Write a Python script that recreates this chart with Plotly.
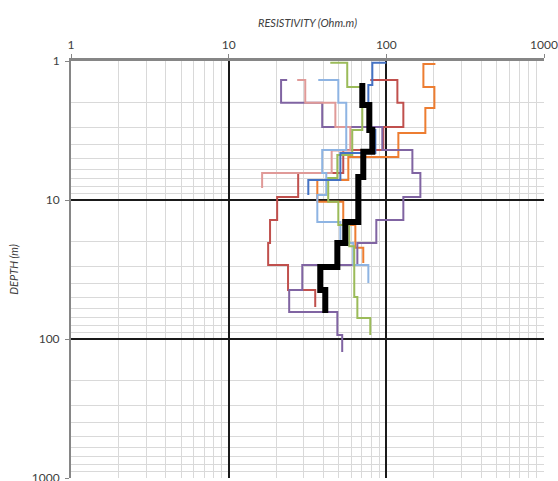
import plotly.graph_objects as go

# ---- data (resistivity in Ohm.m, depth in m); each path starts with a horizontal step at depth[0]
dblue_rho = [100, 81.5, 76.9, 85.2, 51.1, 32.0]
dblue_depth = [1.03, 1.49, 3.14, 4.59, 7.18, 9.2]

orange_rho = [204.7, 171.8, 201.7, 176.8, 119.2, 57.4, 36.5, 53.3, 63.6, 71.4]
orange_depth = [1.05, 1.54, 2.18, 3.30, 4.91, 7.18, 10.3, 15.1, 22.1, 28.4]

red_rho = [79.1, 117.5, 128.2, 95.7, 53.3, 27.6, 20.3, 18.3, 17.8, 23.8, 35.4]
red_depth = [1.37, 2.0, 2.98, 4.37, 6.39, 9.51, 13.9, 20.4, 29.3, 44.4, 58.9]

purple_rho = [23.5, 21.5, 39.2, 94.3, 146.3, 164.4, 128.2, 86.4, 65.5, 29.3, 24.2, 48.9, 52.5]
purple_depth = [1.37, 2.0, 2.98, 4.37, 6.39, 9.51, 13.9, 20.4, 29.3, 44.4, 63.9, 93.6, 124]

pink_rho = [27.2, 30.6, 47.5, 59.1, 45.0, 16.3]
pink_depth = [1.37, 2.0, 2.98, 4.4, 6.39, 8.2]

lblue_rho = [37.0, 49.6, 55.7, 39.2, 41.6, 36.5, 51.1, 61.7, 76.9]
lblue_depth = [1.37, 2.0, 4.37, 6.39, 9.2, 14.4, 20.4, 29.3, 39.5]

green_rho = [44.1, 56.5, 70.4, 60.8, 48.9, 42.8, 49.6, 58.2, 62.6, 65.5, 79.1]
green_depth = [1.03, 1.54, 3.14, 4.75, 6.95, 10.3, 15.1, 21.5, 49.9, 70.6, 93.6]

black_rho = [70.4, 70.4, 78.0, 81.5, 71.4, 66.4, 54.9, 48.9, 38.1, 41.0]
black_depth = [1.44, 2.07, 3.14, 4.5, 6.83, 14.4, 20.4, 30.3, 44.4, 65.0]

x_ticks = [1, 10, 100, 1000]
y_ticks = [1, 10, 100, 1000]


def step_path(rho, depth):
    xs, ys = [rho[0]], [depth[0]]
    for i in range(1, len(rho)):
        xs += [rho[i], rho[i]]
        ys += [depth[i - 1], depth[i]]
    return xs, ys


series = [
    (orange_rho, orange_depth, "#ED7D31", 2),
    (red_rho, red_depth, "#C0504D", 2),
    (purple_rho, purple_depth, "#8064A2", 2),
    (pink_rho, pink_depth, "#E09A98", 2),
    (lblue_rho, lblue_depth, "#8EB4E3", 2),
    (green_rho, green_depth, "#9BBB59", 2),
    (dblue_rho, dblue_depth, "#4472C4", 2),
    (black_rho, black_depth, "#000000", 6),
]

fig = go.Figure()
for rho, depth, color, w in series:
    xs, ys = step_path(rho, depth)
    fig.add_trace(go.Scatter(x=xs, y=ys, mode="lines",
                             line=dict(color=color, width=w),
                             hoverinfo="skip"))

font_family = "Lato, 'Open Sans', sans-serif"
fig.update_layout(
    width=558, height=481,
    margin=dict(l=71, r=14, t=61, b=3, autoexpand=False),
    plot_bgcolor="white", paper_bgcolor="white",
    showlegend=False,
    font=dict(family=font_family, size=12, color="#404040"),
)
fig.update_xaxes(
    type="log", range=[0, 3], side="top", automargin=False,
    tickvals=x_ticks, ticktext=[str(v) for v in x_ticks],
    showgrid=True, gridcolor="#1a1a1a", gridwidth=1.5,
    showline=True, linecolor="#868686", linewidth=3,
    ticks="outside", ticklen=4, tickcolor="#868686",
    tickfont=dict(size=12, color="#404040"),
    ticklabeloverflow="allow",
    minor=dict(showgrid=True, gridcolor="#d9d9d9", gridwidth=1, dtick="D1"),
    title=dict(text="<i>RESISTIVITY (Ohm.m)</i>", font=dict(size=11, color="#404040"), standoff=8),
    zeroline=False,
)
fig.update_yaxes(
    type="log", range=[3, 0], automargin=False,
    tickvals=y_ticks, ticktext=[str(v) for v in y_ticks],
    showgrid=True, gridcolor="#1a1a1a", gridwidth=1.5,
    showline=True, linecolor="#868686", linewidth=2,
    ticks="outside", ticklen=4, tickcolor="#868686",
    tickfont=dict(size=12, color="#404040"),
    ticklabelstandoff=3,
    ticklabeloverflow="allow",
    minor=dict(showgrid=True, gridcolor="#d9d9d9", gridwidth=1, dtick="D1"),
    title=dict(text="<i>DEPTH (m)</i>", font=dict(size=11, color="#404040"), standoff=11),
    zeroline=False,
)

fig.write_html(
    "out.html",
    config={"displayModeBar": False},
    post_script="document.body.style.margin='0';document.body.style.overflow='hidden';",
)
